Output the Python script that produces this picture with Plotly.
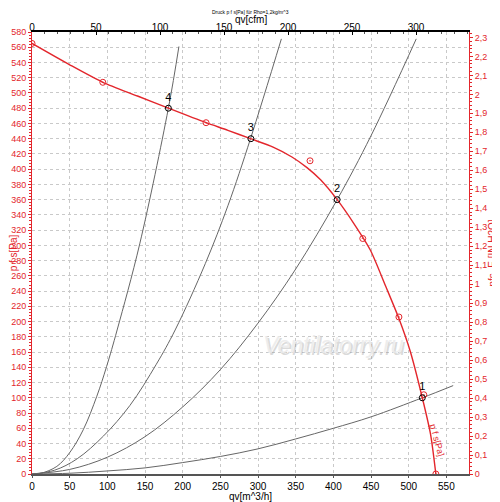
import plotly.graph_objects as go

# fan curve p f s [Pa] over qv [m^3/h]
fan_qv = [0, 50, 94, 140, 181, 231, 260, 290, 320, 345, 365, 383, 405, 427, 449, 470, 487, 502, 518, 529, 536]
fan_p = [565, 537, 514, 496, 480, 461, 451, 440, 429, 416, 402, 386, 360, 329, 294, 245, 204, 161, 100, 52, 0]

# measured points (red circles)
meas_qv = [0, 94, 231, 369, 439, 487, 520, 536]
meas_p = [565, 514, 461, 411, 309, 206, 104, 0]

# system curves 1..4
sys1_qv = [0, 50, 100, 150, 200, 250, 300, 350, 400, 450, 518, 559]
sys1_p = [0, 1, 4, 8, 15, 23, 33, 46, 60, 75, 100, 116]
sys2_qv = [0, 50, 100, 150, 200, 250, 300, 350, 405, 450, 510]
sys2_p = [0, 6, 22, 49, 88, 137, 198, 269, 360, 444, 571]
sys3_qv = [0, 30, 60, 95, 130, 165, 190, 230, 260, 290, 331]
sys3_p = [0, 5, 20, 50, 90, 144, 189, 276, 352, 440, 571]
sys4_qv = [0, 12, 33, 50, 68, 86, 99, 113, 143, 181, 195]
sys4_p = [0, 1, 10, 28, 58, 102, 141, 189, 302, 480, 561]

# operating points
op_qv = [518, 405, 290.5, 181]
op_p = [100, 360, 440, 480]
op_labels = ["1", "2", "3", "4"]

M3H_PER_CFM = 1.699
PA_PER_INH2O = 249.09
RED = "#e3262c"
FONT = "Liberation Sans, Arial, sans-serif"

fig = go.Figure()

for qv, p in [(sys1_qv, sys1_p), (sys2_qv, sys2_p), (sys3_qv, sys3_p), (sys4_qv, sys4_p)]:
    fig.add_trace(go.Scatter(x=qv, y=p, mode="lines", line=dict(color="#666", width=1, shape="spline"),
                             hoverinfo="skip", showlegend=False))

fig.add_trace(go.Scatter(x=fan_qv, y=fan_p, mode="lines", line=dict(color=RED, width=1.4, shape="spline", smoothing=0.7),
                         showlegend=False))
fig.add_trace(go.Scatter(x=meas_qv, y=meas_p, mode="markers",
                         marker=dict(symbol="circle-dot", size=6, color="rgba(0,0,0,0)",
                                     line=dict(color=RED, width=1)),
                         showlegend=False))
fig.add_trace(go.Scatter(x=op_qv, y=op_p, mode="markers+text", text=op_labels, textposition="top center",
                         textfont=dict(color="black", size=11, family=FONT),
                         marker=dict(symbol="circle-open", size=6, color="black", line=dict(width=1)),
                         showlegend=False))

# invisible trace to carry the secondary (cfm / in H2O) axes
fig.add_trace(go.Scatter(x=[q / M3H_PER_CFM for q in fan_qv], y=[p / PA_PER_INH2O for p in fan_p],
                         xaxis="x2", yaxis="y2", mode="lines", opacity=0, hoverinfo="skip", showlegend=False))

fig.add_annotation(x=537, y=44, text="p f s[Pa]", showarrow=False, textangle=75,
                   font=dict(color=RED, size=9, family=FONT))
fig.add_annotation(x=401, y=168, text="<i>Ventilatorry.ru</i>", showarrow=False, xshift=1, yshift=-1,
                   font=dict(color="rgba(150,150,150,0.35)", size=23, family=FONT))
fig.add_annotation(x=400, y=169, text="<i>Ventilatorry.ru</i>", showarrow=False,
                   font=dict(color="rgba(235,235,235,0.9)", size=23, family=FONT))
fig.add_annotation(x=0.5, y=1, xref="paper", yref="paper", yshift=24, yanchor="top", borderpad=0,
                   text="Druck p f s[Pa] für Rho=1,2kg/m^3",
                   showarrow=False, font=dict(color="black", size=5, family=FONT))
# top axis title placed by hand so it sits close to the tick labels
fig.add_annotation(x=0.5, y=1, xref="paper", yref="paper", yshift=13, yanchor="middle", borderpad=0,
                   text="qv[cfm]", showarrow=False, font=dict(color="black", size=10, family=FONT))

grid = dict(showgrid=True, gridcolor="#c9c9c9", griddash="dot", gridwidth=1, zeroline=False, automargin=False)

# the page body adds an 8px offset top/left, so the figure is drawn 8px smaller
fig.update_layout(
    width=492, height=494,
    margin=dict(l=24, r=31, t=24, b=28),
    paper_bgcolor="white", plot_bgcolor="white",
    separators=",.",
    font=dict(family=FONT, size=10, color="black"),
    xaxis=dict(range=[0, 580], tick0=0, dtick=50, **grid,
               showline=True, linecolor="#555", linewidth=2,
               ticks="outside", ticklen=2, tickcolor="#555",
               tickfont=dict(size=10, color="black"),
               title=dict(text="qv[m^3/h]", font=dict(size=10), standoff=0)),
    xaxis2=dict(range=[0, 580 / M3H_PER_CFM], tick0=0, dtick=50, overlaying="x", side="top", anchor="y",
                showgrid=False, zeroline=False, automargin=False,
                showline=True, linecolor="black", linewidth=1.5,
                ticks="inside", ticklen=3, tickcolor="black",
                minor=dict(dtick=10, ticks="inside", ticklen=2, tickcolor="#555"),
                tickfont=dict(size=10, color="black"), ticklabelstandoff=-5),
    yaxis=dict(range=[0, 580], tick0=0, dtick=20, **grid,
               showline=True, linecolor=RED, linewidth=1,
               ticks="outside", ticklen=3, tickcolor=RED,
               minor=dict(dtick=4, ticks="outside", ticklen=2, tickcolor=RED),
               tickfont=dict(size=9, color=RED),
               title=dict(text="p f s[Pa]", font=dict(size=10, color=RED), standoff=0)),
    yaxis2=dict(range=[0, 580 / PA_PER_INH2O], tick0=0, dtick=0.1, overlaying="y", side="right", anchor="x",
                showgrid=False, zeroline=False, automargin=False,
                showline=True, linecolor=RED, linewidth=1,
                ticks="outside", ticklen=3, tickcolor=RED,
                minor=dict(dtick=0.02, ticks="outside", ticklen=2, tickcolor=RED),
                tickfont=dict(size=9, color=RED),
                title=dict(text="pfs_E [IN H2O]", font=dict(size=10, color=RED), standoff=2)),
)

fig.write_html("out.html")
